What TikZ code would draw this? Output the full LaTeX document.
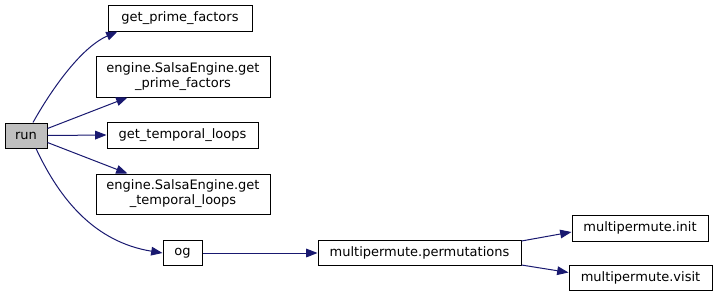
\documentclass[tikz,border=0pt]{standalone}
\usepackage{fontspec}
\setmainfont{DejaVu Sans}
\usetikzlibrary{arrows.meta,calc}
\definecolor{edgeblue}{HTML}{191970}
\begin{document}
\begin{tikzpicture}[x=0.75pt,y=-0.75pt,
  box/.style={draw=black, line width=0.75pt, inner sep=0pt, align=center,
    font=\fontsize{9.75pt}{11.25pt}\selectfont},
  call/.style={draw=edgeblue, line width=0.75pt,
    -{Triangle[length=8.5pt,width=6.5pt]}, shorten >=0pt}]
\useasboundingbox (0,0) rectangle (717,297);
% caller
\node[box, fill=black!25, minimum width=31.5pt, minimum height=18.75pt] (run) at (26,135.5) {run};
% direct callees
\node[box, minimum width=108pt, minimum height=19.5pt] (gpf) at (180,18) {get\_prime\_factors};
\node[box, minimum width=130.5pt, minimum height=30.75pt] (epf) at (183,76.5) {engine.SalsaEngine.get\\\_prime\_factors};
\node[box, minimum width=113.25pt, minimum height=19.5pt] (gtl) at (182.5,135) {get\_temporal\_loops};
\node[box, minimum width=130.5pt, minimum height=30pt] (etl) at (183,194) {engine.SalsaEngine.get\\\_temporal\_loops};
\node[box, minimum width=29.25pt, minimum height=18.75pt] (og) at (182.5,253) {og};
% further calls
\node[box, minimum width=152.25pt, minimum height=18.75pt] (perm) at (419.5,253) {multipermute.permutations};
\node[box, minimum width=102pt, minimum height=19.5pt] (init) at (640,228) {multipermute.init};
\node[box, minimum width=107.25pt, minimum height=18.75pt] (visit) at (640.5,277.5) {multipermute.visit};
% edges
\draw[call] ($(run.north)+(7,0)$) .. controls (50,92) and (80,48) .. ($(gpf.south west)+(10,0)$);
\draw[call] ($(run.east)+(0,-7)$) -- ($(epf.south west)+(32,0)$);
\draw[call] (run.east) -- (gtl.west);
\draw[call] ($(run.east)+(0,7)$) -- ($(etl.north west)+(32,0)$);
\draw[call] ($(run.south)+(10,0)$) .. controls (60,200) and (95,242) .. (og.west);
\draw[call] (og.east) -- (perm.west);
\draw[call] ($(perm.north east)+(0,1)$) -- ($(init.west)+(0,4)$);
\draw[call] ($(perm.south east)+(0,-1)$) -- ($(visit.west)+(0,-5)$);
\end{tikzpicture}
\end{document}
